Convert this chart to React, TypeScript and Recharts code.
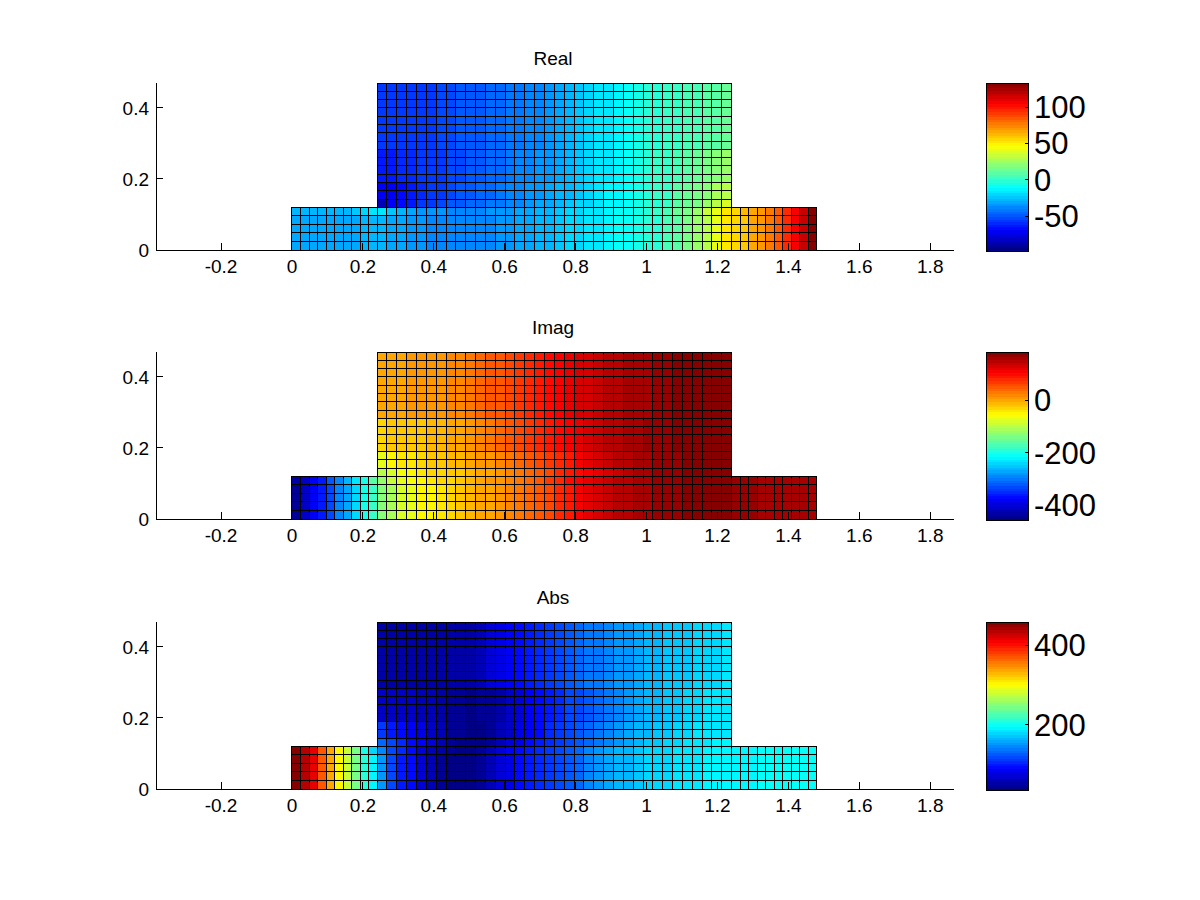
import React from "react";
import { ScatterChart, XAxis, YAxis, ReferenceArea } from "recharts";

const xTicks = [-0.2, 0, 0.2, 0.4, 0.6, 0.8, 1, 1.2, 1.4, 1.6, 1.8];
const yTicks = [0, 0.2, 0.4];

// Reading of each cell, one row per named list (lower band has 56 cells, upper band 36).
const realLowerBottom = [-30,-30,-30,-30,-30,-30,-30,-30,-29,-28,-27,-31,-33,-35,-36,-37,-38,-38,-38,-38,-38,-37,-36,-34,-33,-31,-29,-27,-24,-21,-19,-17,-15,-13,-11,-9,-7,-4,-1,4,10,16,22,30,40,50,56,60,65,70,77,84,95,105,117,130];
const realLowerTop = [-29,-29,-28,-28,-27,-27,-26,-25,-22,-16,-16,-24,-29,-32,-34,-35,-36,-37,-37,-37,-37,-36,-35,-34,-32,-30,-28,-26,-24,-21,-19,-17,-15,-13,-11,-9,-6,-3,0,5,11,17,24,32,42,52,57,61,66,71,78,85,96,106,118,131];
const realUpperCorner = [-85,-72,-66,-62,-58,-56,-53,-51,-49,-47,-45,-43,-41,-39,-37,-35,-33,-31,-28,-25,-22,-19,-16,-14,-12,-10,-7,-4,-1,3,7,12,17,23,30,38];
const realUpperNear = [-72,-71,-68,-64,-60,-57,-55,-53,-50,-48,-46,-44,-42,-40,-38,-36,-34,-32,-29,-26,-23,-20,-17,-14,-12,-9,-6,-3,0,3,7,11,15,20,25,31];
const realUpperMid = [-62,-62,-61,-60,-58,-57,-55,-54,-52,-50,-48,-46,-44,-42,-40,-38,-36,-34,-31,-28,-25,-21,-18,-15,-12,-9,-6,-3,0,3,6,9,12,15,18,22];
const realUpperTop = [-55,-56,-56,-56,-55,-55,-54,-53,-51,-49,-48,-46,-44,-43,-41,-40,-38,-36,-33,-29,-25,-22,-18,-15,-13,-10,-7,-4,-2,0,2,4,6,8,10,11];

const imagLowerBottom = [-438,-412,-380,-361,-329,-297,-271,-243,-207,-182,-137,-111,-86,-73,-57,-50,-41,-30,-22,-14,-6,2,8,17,27,38,49,62,81,92,103,114,125,135,145,150,155,160,165,168,171,174,177,179,181,183,170,166,163,160,158,157,156,155,155,154];
const imagLowerTop = [-436,-410,-378,-358,-326,-294,-267,-237,-198,-165,-118,-93,-72,-60,-50,-44,-37,-28,-20,-12,-4,4,10,19,29,40,51,64,82,93,104,115,126,136,146,151,156,161,165,168,171,174,177,179,181,183,170,166,163,160,158,157,156,155,155,154];
const imagUpperCorner = [-105,-80,-62,-50,-42,-36,-30,-24,-18,-12,-5,2,8,17,27,38,50,62,75,88,100,112,122,132,142,148,154,159,163,167,170,173,176,178,180,182];
const imagUpperNear = [-73,-57,-47,-40,-33,-25,-20,-14,-8,-2,4,10,16,24,34,45,56,68,80,92,104,115,125,134,143,149,155,160,164,167,170,173,176,178,180,182];
const imagUpperMid = [-28,-26,-24,-21,-18,-15,-10,-5,2,10,18,26,36,45,55,65,74,85,96,108,119,128,136,144,150,155,160,164,167,170,173,175,177,179,181,183];
const imagUpperTop = [-3,-1,1,3,5,7,10,15,22,29,36,44,52,60,69,78,87,97,106,115,125,132,138,145,151,155,159,162,165,169,173,175,177,179,181,183];

const absLowerBottom = [458,433,412,370,336,302,279,247,210,189,150,117,102,90,73,58,50,43,39,39,45,58,73,83,92,98,106,113,119,128,135,143,151,158,163,168,172,176,178,181,183,185,187,189,191,192,193,194,194,195,195,195,196,196,196,196];
const absLowerTop = [458,433,412,370,336,302,277,244,205,178,148,120,104,92,76,60,51,44,40,40,46,59,74,84,93,99,107,114,120,129,135,143,151,158,163,168,172,176,178,181,183,185,187,189,191,192,193,194,194,195,195,195,196,196,196,196];
const absUpperCorner = [134,117,105,95,85,72,60,50,43,40,42,50,62,73,83,91,98,105,112,118,125,132,140,148,155,160,165,170,174,177,180,183,185,187,189,190];
const absUpperNear = [113,102,92,85,79,66,58,50,44,41,42,48,58,68,79,88,96,104,111,117,123,130,137,145,152,158,163,167,171,175,178,181,183,185,187,188];
const absUpperMid = [69,68,66,64,60,58,55,50,45,42,44,48,55,65,75,85,94,102,109,116,122,128,134,141,148,154,159,164,168,172,175,178,180,182,184,186];
const absUpperTop = [56,54,54,54,54,54,54,54,54,54,58,70,78,88,94,100,105,111,117,125,131,136,141,146,151,155,159,163,166,169,172,174,176,178,180,182];

// Bottom to top: 5 lower-band rows, then 15 upper-band rows.
const rowsOf = (lb: number[], lt: number[], c: number[], n: number[], m: number[], t: number[]) =>
  [lb, lb, lb, lb, lt, c, n, n, m, m, m, m, t, t, t, t, t, t, t, t];

const plots = [
  { title: "Real", top: 83, domain: [-98, 133], barTicks: [-50, 0, 50, 100], rows: rowsOf(realLowerBottom, realLowerTop, realUpperCorner, realUpperNear, realUpperMid, realUpperTop) },
  { title: "Imag", top: 352, domain: [-457, 183], barTicks: [-400, -200, 0], rows: rowsOf(imagLowerBottom, imagLowerTop, imagUpperCorner, imagUpperNear, imagUpperMid, imagUpperTop) },
  { title: "Abs", top: 622, domain: [37, 458], barTicks: [200, 400], rows: rowsOf(absLowerBottom, absLowerTop, absUpperCorner, absUpperNear, absUpperMid, absUpperTop) },
];

const jet = (t: number) => {
  const q = (Math.min(63, Math.max(0, Math.floor(t * 64))) + 0.5) / 64;
  const ch = (c: number) => Math.round(255 * Math.max(0, Math.min(1, 1.5 - Math.abs(4 * q - c))));
  return `rgb(${ch(3)},${ch(2)},${ch(1)})`;
};

const FONT = "'Liberation Sans', Arial, sans-serif";
const crisp = { shapeRendering: "crispEdges" } as any;
const axisInk = { stroke: "#000", shapeRendering: "crispEdges" } as any;

function cellBounds(r: number, c: number, len: number) {
  const y1 = r < 5 ? (r * 0.12) / 5 : 0.12 + ((r - 5) * 0.35) / 15;
  const y2 = r < 5 ? ((r + 1) * 0.12) / 5 : 0.12 + ((r - 4) * 0.35) / 15;
  if (len === 36) return { x1: 0.24 + c / 36, x2: 0.24 + (c + 1) / 36, y1, y2 };
  if (c < 10) return { x1: c * 0.024, x2: (c + 1) * 0.024, y1, y2 };
  if (c < 46) return { x1: 0.24 + (c - 10) / 36, x2: 0.24 + (c - 9) / 36, y1, y2 };
  return { x1: 1.24 + (c - 46) * 0.024, x2: 1.24 + (c - 45) * 0.024, y1, y2 };
}

function Field({ plot }: { plot: (typeof plots)[number] }) {
  const [lo, hi] = plot.domain;
  const marginTop = 50;
  return (
    <ScatterChart width={1000} height={270} margin={{ top: marginTop, right: 46, bottom: 3, left: 0 }} style={{ position: "absolute", left: 0, top: plot.top - marginTop }}>
      <XAxis type="number" dataKey="x" domain={[-0.3835, 1.867]} allowDataOverflow ticks={xTicks} interval={0} height={50} tickSize={-7} tickMargin={17} axisLine={axisInk} tickLine={axisInk} tick={{ fill: "#000", fontSize: 19, fontFamily: FONT }} tickFormatter={(v: number) => String(v)} />
      <YAxis type="number" dataKey="y" domain={[0, 0.47]} allowDataOverflow ticks={yTicks} interval={0} width={156} tickSize={-7} tickMargin={14} axisLine={axisInk} tickLine={axisInk} tick={{ fill: "#000", fontSize: 19, fontFamily: FONT }} tickFormatter={(v: number) => String(v)} />
      {plot.rows.flatMap((row, r) =>
        row.map((v, c) => (
          <ReferenceArea key={`${r}-${c}`} {...cellBounds(r, c, row.length)} fill={jet((v - lo) / (hi - lo))} fillOpacity={1} stroke="#000" strokeWidth={1} ifOverflow="visible" {...crisp} />
        ))
      )}
      <text x={553} y={marginTop - 18} textAnchor="middle" fontSize={19} fontFamily={FONT} fill="#000">{plot.title}</text>
    </ScatterChart>
  );
}

function ColorBar({ plot }: { plot: (typeof plots)[number] }) {
  const [lo, hi] = plot.domain;
  const bands = Array.from({ length: 64 }, (_, i) => i);
  return (
    <ScatterChart width={142} height={188} margin={{ top: 10, right: 0, bottom: 10, left: 0 }} style={{ position: "absolute", left: 986, top: plot.top - 10 }}>
      <XAxis type="number" dataKey="x" domain={[0, 1]} allowDataOverflow hide />
      <YAxis type="number" dataKey="y" orientation="right" domain={[lo, hi]} allowDataOverflow ticks={plot.barTicks} interval={0} width={100} tickSize={-3} tickMargin={9} axisLine={axisInk} tickLine={axisInk} tick={{ fill: "#000", fontSize: 31, fontFamily: FONT }} tickFormatter={(v: number) => String(v)} />
      {bands.map((i) => (
        <ReferenceArea key={i} x1={0} x2={1} y1={lo + ((hi - lo) * i) / 64} y2={lo + ((hi - lo) * (i + 1)) / 64} fill={jet((i + 0.5) / 64)} fillOpacity={1} stroke="none" ifOverflow="visible" {...crisp} />
      ))}
      <ReferenceArea x1={0} x2={1} y1={lo} y2={hi} fill="none" stroke="#000" ifOverflow="visible" {...crisp} />
    </ScatterChart>
  );
}

export default function App() {
  return (
    <div style={{ position: "absolute", left: 0, top: 0, width: 1200, height: 900, background: "#fff", overflow: "hidden" }}>
      {plots.map((p) => (
        <React.Fragment key={p.title}>
          <Field plot={p} />
          <ColorBar plot={p} />
        </React.Fragment>
      ))}
    </div>
  );
}
